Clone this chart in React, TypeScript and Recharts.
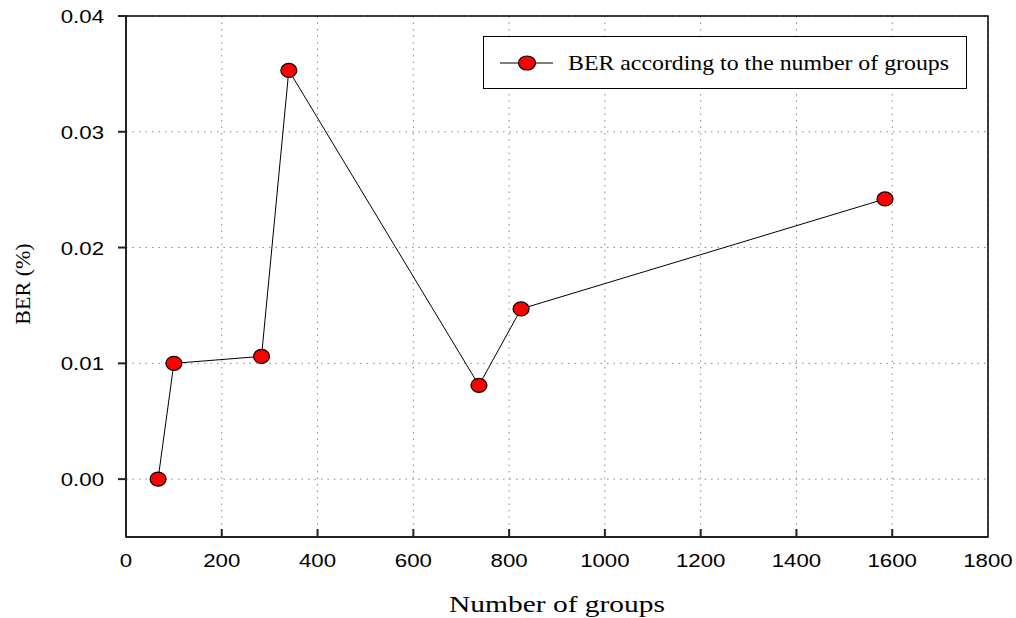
import { LineChart, Line, XAxis, YAxis, CartesianGrid, ReferenceArea } from 'recharts'

const groups = [67, 100, 283, 340, 737, 825, 1585]
const berValues = [0.0, 0.01, 0.0106, 0.0353, 0.0081, 0.0147, 0.0242]
const xTicks = [0, 200, 400, 600, 800, 1000, 1200, 1400, 1600, 1800]
const yTicks = [0.0, 0.01, 0.02, 0.03, 0.04]
const seriesName = 'BER according to the number of groups'

const data = groups.map((g, i) => ({ groups: g, ber: berValues[i] }))

const serif = '"Liberation Serif", "Times New Roman", serif'
const sans = '"Liberation Sans", Arial, sans-serif'

// the source picture is a bit stretched sideways, so widen horizontal text
const stretch = 1.17
const numWidth = (s: string, size: number) =>
  s.split('').reduce((w, c) => w + (c === '.' ? 0.278 : 0.556), 0) * size * stretch

const RedDot = (props) => {
  const { cx, cy } = props
  if (cx == null || cy == null) return null
  return <ellipse cx={cx} cy={cy} rx={8} ry={7} fill="#ff0000" stroke="#000" strokeWidth={1.2} />
}

const XTick = (props) => {
  const { x, y, payload } = props
  const label = String(payload.value)
  return (
    <g>
      {payload.value !== 0 && payload.value !== 1800 && (
        <line x1={x} y1={y} x2={x} y2={y - 8} stroke="#222" strokeWidth={2} />
      )}
      <text
        x={x}
        y={y + 30}
        textAnchor="middle"
        fontFamily={sans}
        fontSize={19}
        fill="#000"
        textLength={numWidth(label, 19)}
        lengthAdjust="spacingAndGlyphs"
      >
        {label}
      </text>
    </g>
  )
}

const YTick = (props) => {
  const { x, y, payload } = props
  const label = payload.value.toFixed(2)
  return (
    <text
      x={x}
      y={y + 7}
      textAnchor="end"
      fontFamily={sans}
      fontSize={19}
      fill="#000"
      textLength={numWidth(label, 19)}
      lengthAdjust="spacingAndGlyphs"
    >
      {label}
    </text>
  )
}

const LegendBox = () => (
  <div
    style={{
      position: 'absolute',
      left: 483,
      top: 36,
      width: 484,
      height: 53,
      border: '1.5px solid #000',
      background: '#fff',
      boxSizing: 'border-box',
    }}
  >
    <svg width={481} height={50} style={{ display: 'block' }}>
      <line x1={16} y1={26} x2={69} y2={26} stroke="#000" strokeWidth={1} />
      <ellipse cx={43} cy={26} rx={8.5} ry={7} fill="#ff0000" stroke="#000" strokeWidth={1.2} />
      <text x={84} y={33} fontFamily={serif} fontSize={21} fill="#000" textLength={381} lengthAdjust="spacingAndGlyphs">
        {seriesName}
      </text>
    </svg>
  </div>
)

export default function App() {
  return (
    <div style={{ position: 'absolute', left: 0, top: 0, width: 1016, height: 618, background: '#fff' }}>
      <LineChart width={1016} height={618} data={data} margin={{ top: 16, right: 28, bottom: 0, left: 0 }}>
        <CartesianGrid stroke="#888" strokeDasharray="1.5 5" />
        <XAxis
          dataKey="groups"
          type="number"
          domain={[0, 1800]}
          ticks={xTicks}
          height={81}
          tickSize={0}
          tickMargin={0}
          tickLine={false}
          axisLine={{ stroke: '#222', strokeWidth: 2 }}
          tick={<XTick />}
        />
        <YAxis
          type="number"
          domain={[-0.005, 0.04]}
          ticks={yTicks}
          width={126}
          tickSize={8}
          tickMargin={14}
          tickLine={{ stroke: '#222', strokeWidth: 2 }}
          axisLine={{ stroke: '#222', strokeWidth: 2 }}
          tick={<YTick />}
        />
        <ReferenceArea x1={0} x2={1800} y1={-0.005} y2={0.04} fill="none" stroke="#000" strokeWidth={1.5} ifOverflow="visible" />
        <Line
          dataKey="ber"
          name={seriesName}
          stroke="#000"
          strokeWidth={1}
          dot={<RedDot />}
          activeDot={false}
          isAnimationActive={false}
        />
        <text x={557} y={612} textAnchor="middle" fontFamily={serif} fontSize={23} fill="#000" textLength={216} lengthAdjust="spacingAndGlyphs">
          Number of groups
        </text>
        <text
          x={0}
          y={0}
          transform="translate(30, 284) rotate(-90)"
          textAnchor="middle"
          fontFamily={serif}
          fontSize={22}
          fill="#000"
        >
          BER (%)
        </text>
      </LineChart>
      <LegendBox />
    </div>
  )
}
